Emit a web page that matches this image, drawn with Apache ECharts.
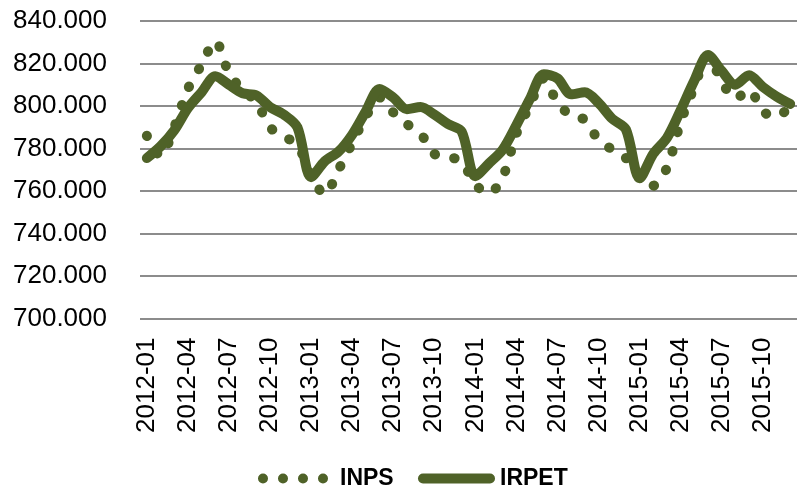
<!DOCTYPE html>
<html>
<head>
<meta charset="UTF-8">
<title>INPS - IRPET</title>
<script src="https://cdn.jsdelivr.net/npm/echarts@6/dist/echarts.min.js"></script>
<style>
  body { margin:0px; background:#fff; }
  #chart { width:797px; height:489px; }
</style>
</head>
<body>
<div id="chart"></div>
<script>
// mesi 2012-01 .. 2015-12
var months = [];
for (var y = 2012; y <= 2015; y++)
  for (var m = 1; m <= 12; m++)
    months.push(y + '-' + (m < 10 ? '0' + m : m));

// valori in migliaia
var inps = [786, 776.5, 790, 808, 819.5, 830.5, 815.5, 807.5, 802, 790, 785.5, 782,
            767, 758.5, 770, 782.5, 795, 804, 797, 791.5, 787, 777.5, 776, 774,
            763, 759, 766.5, 787, 800.5, 813, 801.5, 795.5, 793.5, 784, 779.5, 775.5,
            767, 762.5, 771, 792.5, 809, 823.5, 811.5, 803.5, 807.5, 797.5, 795, 800];
var irpet = [775.5, 781, 788.5, 799, 806.5, 814, 810, 806, 805, 799.5, 796, 790,
             766.5, 774, 778.5, 786.5, 797.5, 808, 804, 798.5, 799.5, 796, 791.5, 788,
             767, 773, 779.5, 791, 803.5, 815, 813, 805.5, 806.5, 801.5, 794, 789,
             766, 777.5, 785, 798, 812, 824, 816.5, 810, 814.5, 809, 804.5, 801];

var seriesNames = ['INPS', 'IRPET'];
var green = '#4f6228';

var chart = echarts.init(document.getElementById('chart'));
var legendText = { fontFamily: 'Liberation Sans', fontSize: 23, fontWeight: 'bold', color: '#000' };

chart.setOption({
  animation: false,
  color: [green, green],
  grid: { left: 140, right: -6, top: 21, bottom: 170.5 },
  legend: [{
    data: [{ name: seriesNames[0], icon: 'path://M0,5a5,5 0 1,0 10,0a5,5 0 1,0 -10,0Z M20,5a5,5 0 1,0 10,0a5,5 0 1,0 -10,0Z M40,5a5,5 0 1,0 10,0a5,5 0 1,0 -10,0Z M60,5a5,5 0 1,0 10,0a5,5 0 1,0 -10,0Z' }],
    left: 258, top: 467, padding: 0,
    itemWidth: 70, itemHeight: 10,
    textStyle: Object.assign({ padding: [0, 0, 0, 7] }, legendText)
  }, {
    data: [{ name: seriesNames[1], icon: 'path://M5,0H72A5,5 0 0 1 72,10H5A5,5 0 0 1 5,0Z' }],
    left: 418, top: 467, padding: 0,
    itemWidth: 77, itemHeight: 10,
    textStyle: legendText
  }],
  xAxis: {
    type: 'category',
    data: months,
    axisLine: { show: false },
    axisTick: { show: false },
    axisLabel: {
      interval: 2,
      rotate: 90,
      margin: 19,
      fontFamily: 'Liberation Sans',
      fontSize: 26,
      color: '#000'
    }
  },
  yAxis: {
    type: 'value',
    min: 700,
    max: 840,
    interval: 20,
    axisLine: { show: false },
    axisTick: { show: false },
    splitLine: { lineStyle: { color: '#8c8c8c', width: 2 } },
    axisLabel: {
      margin: 33,
      fontFamily: 'Liberation Sans',
      fontSize: 26,
      color: '#000',
      formatter: function (v) { return v + '.000'; }
    }
  },
  series: [{
    name: seriesNames[0],
    type: 'line',
    data: inps,
    symbol: 'none',
    smooth: 0.3,
    lineStyle: { width: 10, type: [0.5, 19.5], cap: 'round', join: 'round', color: green }
  }, {
    name: seriesNames[1],
    type: 'line',
    data: irpet,
    symbol: 'none',
    smooth: 0.3,
    lineStyle: { width: 10, cap: 'round', join: 'round', color: green }
  }]
});
</script>
</body>
</html>
